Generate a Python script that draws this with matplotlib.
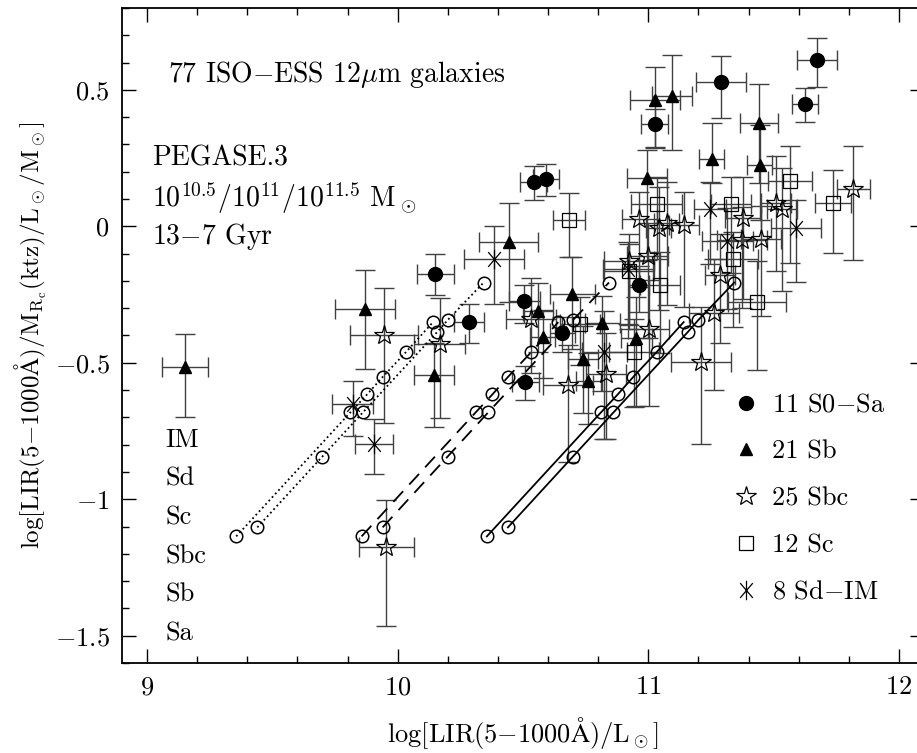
import numpy as np
import matplotlib
matplotlib.use('Agg')
import matplotlib.pyplot as plt
from matplotlib.path import Path
from matplotlib.ticker import MultipleLocator, FuncFormatter

plt.rcParams['font.family'] = ['cmr10', 'DejaVu Serif']
plt.rcParams['mathtext.fontset'] = 'cm'
plt.rcParams['axes.unicode_minus'] = False

# --- observed galaxies: x, y, x error, y error (low / high) ---
s0sa_x = [11.673, 11.625, 11.291, 11.025, 10.543, 10.592, 10.151, 10.284, 10.506, 10.510, 10.656, 10.964]
s0sa_y = [0.609, 0.449, 0.528, 0.375, 0.162, 0.172, -0.173, -0.349, -0.275, -0.570, -0.391, -0.214]
s0sa_xe = [0.08, 0.052, 0.10, 0.053, 0.053, 0.05, 0.072, 0.061, 0.06, 0.053, 0.05, 0.04]
s0sa_ylo = [0.10, 0.066, 0.13, 0.088, 0.065, 0.06, 0.08, 0.078, 0.08, 0.067, 0.07, 0.10]
s0sa_yhi = [0.08, 0.058, 0.095, 0.055, 0.058, 0.058, 0.07, 0.065, 0.06, 0.06, 0.06, 0.07]

sb_x = [11.028, 11.094, 11.442, 11.254, 11.445, 10.995, 10.443, 9.871, 10.145, 9.151, 10.559, 10.579,
        10.696, 10.816, 10.738, 10.761, 10.953]
sb_y = [0.464, 0.478, 0.380, 0.247, 0.223, 0.178, -0.059, -0.303, -0.546, -0.514, -0.309, -0.406,
        -0.248, -0.355, -0.485, -0.565, -0.410]
sb_xe = [0.10, 0.08, 0.076, 0.05, 0.05, 0.08, 0.118, 0.12, 0.08, 0.093, 0.06, 0.05, 0.09, 0.07, 0.06, 0.05, 0.06]
sb_ylo = [0.175, 0.20, 0.22, 0.09, 0.20, 0.30, 0.22, 0.22, 0.19, 0.185, 0.15, 0.15, 0.20, 0.25, 0.20, 0.16, 0.25]
sb_yhi = [0.12, 0.15, 0.14, 0.13, 0.15, 0.10, 0.146, 0.142, 0.12, 0.12, 0.10, 0.10, 0.134, 0.10, 0.12, 0.10, 0.15]

sbc_x = [9.945, 10.167, 9.955, 10.533, 10.678, 10.831, 11.001, 11.210, 11.263, 11.287, 10.964, 11.041,
         11.073, 11.141, 10.997, 10.924, 11.378, 11.373, 11.449, 11.509, 11.533, 11.817]
sbc_y = [-0.400, -0.431, -1.176, -0.339, -0.583, -0.540, -0.378, -0.497, -0.318, -0.179, 0.026, -0.005,
         0.011, 0.004, -0.108, -0.127, 0.032, -0.050, -0.047, 0.086, 0.062, 0.135]
sbc_xe = [0.137, 0.10, 0.11, 0.10, 0.10, 0.08, 0.08, 0.12, 0.10, 0.06, 0.07, 0.05,
          0.05, 0.06, 0.08, 0.10, 0.07, 0.10, 0.08, 0.06, 0.06, 0.066]
sbc_ylo = [0.32, 0.27, 0.29, 0.20, 0.28, 0.24, 0.28, 0.30, 0.28, 0.25, 0.25, 0.30,
           0.30, 0.30, 0.30, 0.25, 0.30, 0.25, 0.28, 0.25, 0.30, 0.26]
sbc_yhi = [0.175, 0.17, 0.175, 0.15, 0.15, 0.15, 0.18, 0.20, 0.20, 0.15, 0.10, 0.15,
           0.15, 0.12, 0.12, 0.10, 0.15, 0.12, 0.12, 0.17, 0.15, 0.16]

sc_x = [10.685, 11.033, 11.329, 11.566, 11.737, 11.339, 11.435, 11.047, 10.924, 10.944, 10.729]
sc_y = [0.022, 0.080, 0.080, 0.165, 0.084, -0.120, -0.276, -0.214, -0.163, -0.461, -0.358]
sc_xe = [0.064, 0.10, 0.08, 0.087, 0.073, 0.10, 0.116, 0.08, 0.10, 0.10, 0.08]
sc_ylo = [0.136, 0.20, 0.25, 0.30, 0.18, 0.25, 0.25, 0.25, 0.20, 0.20, 0.15]
sc_yhi = [0.10, 0.10, 0.10, 0.13, 0.124, 0.10, 0.15, 0.12, 0.10, 0.12, 0.10]

sdim_x = [10.386, 9.820, 9.906, 11.247, 11.316, 11.588, 10.918, 10.825]
sdim_y = [-0.120, -0.650, -0.796, 0.062, -0.054, -0.005, -0.157, -0.461]
sdim_xe = [0.12, 0.08, 0.076, 0.063, 0.10, 0.10, 0.10, 0.09]
sdim_ylo = [0.164, 0.12, 0.11, 0.20, 0.25, 0.20, 0.20, 0.32]
sdim_yhi = [0.12, 0.085, 0.09, 0.10, 0.12, 0.10, 0.10, 0.15]

# --- PEGASE.3 model tracks (two tracks per mass) ---
trk1_y = [-1.136, -0.682, -0.616, -0.552, -0.461, -0.351]
trk2_y = [-1.103, -0.844, -0.682, -0.388, -0.343, -0.206]
m105_x1 = [9.356, 9.811, 9.878, 9.940, 10.033, 10.141]
m105_x2 = [9.440, 9.699, 9.861, 10.157, 10.200, 10.343]
m110_x1 = [9.856, 10.311, 10.378, 10.440, 10.533, 10.641]
m110_x2 = [9.940, 10.199, 10.361, 10.657, 10.700, 10.843]
m115_x1 = [10.356, 10.811, 10.878, 10.940, 11.033, 11.141]
m115_x2 = [10.440, 10.699, 10.861, 11.157, 11.200, 11.343]

type_labels = ['IM', 'Sd', 'Sc', 'Sbc', 'Sb', 'Sa']

# asterisk: vertical bar plus a steep X
ast = Path([(0, -1), (0, 1), (-0.65, -0.76), (0.65, 0.76), (-0.65, 0.76), (0.65, -0.76)],
           [Path.MOVETO, Path.LINETO] * 3)

fig = plt.figure(figsize=(9.17, 7.53), dpi=100)
ax = fig.add_axes([0.1330, 0.1195, 0.8746, 0.8699])

ecol = '#404040'
groups = [
    (s0sa_x, s0sa_y, s0sa_xe, s0sa_ylo, s0sa_yhi, dict(marker='o', ms=10, mfc='k', mec='k'), '11 S0$-$Sa'),
    (sb_x, sb_y, sb_xe, sb_ylo, sb_yhi, dict(marker='^', ms=9, mfc='k', mec='k'), '21 Sb'),
    (sbc_x, sbc_y, sbc_xe, sbc_ylo, sbc_yhi, dict(marker='*', ms=15, mfc='none', mec='k', mew=0.9), '25 Sbc'),
    (sc_x, sc_y, sc_xe, sc_ylo, sc_yhi, dict(marker='s', ms=10, mfc='none', mec='k', mew=0.9), '12 Sc'),
    (sdim_x, sdim_y, sdim_xe, sdim_ylo, sdim_yhi, dict(marker=ast, ms=14, mfc='none', mec='k', mew=0.9), '8 Sd$-$IM'),
]
handles = []
for gx, gy, gxe, gylo, gyhi, mk, lab in groups:
    ax.errorbar(gx, gy, xerr=gxe, yerr=[gylo, gyhi], fmt='none', ecolor=ecol,
                elinewidth=1.0, capsize=7, capthick=1.0, zorder=2)
    h, = ax.plot(gx, gy, ls='none', zorder=3, **mk)
    handles.append((h, lab))

trk = dict(marker='o', ms=9, mfc='none', mec='k', mew=1.1, color='k', zorder=4)
ax.plot(m105_x1, trk1_y, ls=':', lw=1.3, **trk)
ax.plot(m105_x2, trk2_y, ls=':', lw=1.3, **trk)
ax.plot(m110_x1, trk1_y, ls=(0, (8, 5)), lw=1.3, **trk)
ax.plot(m110_x2, trk2_y, ls=(0, (8, 5)), lw=1.3, **trk)
ax.plot(m115_x1, trk1_y, ls='-', lw=1.3, **trk)
ax.plot(m115_x2, trk2_y, ls='-', lw=1.3, **trk)

ax.set_xlim(8.9, 12.1)
ax.set_ylim(-1.6, 0.8)
ax.xaxis.set_major_locator(MultipleLocator(1))
ax.xaxis.set_minor_locator(MultipleLocator(0.2))
ax.yaxis.set_major_locator(MultipleLocator(0.5))
ax.yaxis.set_minor_locator(MultipleLocator(0.1))
fmt = FuncFormatter(lambda v, p: '$%g$' % round(v, 2))
ax.xaxis.set_major_formatter(fmt)
ax.yaxis.set_major_formatter(fmt)
ax.tick_params(which='both', direction='in', top=True, right=True, width=1.0, labelsize=19)
ax.tick_params(which='major', length=10, pad=9)
ax.tick_params(which='minor', length=5)
for sp in ax.spines.values():
    sp.set_linewidth(1.3)

ax.set_xlabel('log[LIR(5$-$1000$\\mathrm{\\AA}$)/L$_\\odot$]', fontsize=19, labelpad=11)
ax.set_ylabel('log[LIR(5$-$1000$\\mathrm{\\AA}$)/M$_{\\mathrm{R_c}}$(ktz)/L$_\\odot$/M$_\\odot$]',
              fontsize=18, labelpad=4)

ax.text(0.057, 0.898, '77 ISO$-$ESS 12$\\mu$m galaxies', transform=ax.transAxes, fontsize=20, va='center')
ax.text(0.038, 0.771, 'PEGASE.3', transform=ax.transAxes, fontsize=20, va='center')
ax.text(0.038, 0.710, '10$^{10.5}$/10$^{11}$/10$^{11.5}$ M$_\\odot$', transform=ax.transAxes, fontsize=20, va='center')
ax.text(0.038, 0.651, '13$-$7 Gyr', transform=ax.transAxes, fontsize=20, va='center')
for i, t in enumerate(type_labels):
    ax.text(0.054, 0.340 - i * 0.059, t, transform=ax.transAxes, fontsize=19, va='center')

ax.legend([h for h, _ in handles], [l for _, l in handles], loc='upper left',
          bbox_to_anchor=(0.745, 0.432), frameon=False, fontsize=19, handlelength=1.0,
          handletextpad=0.5, labelspacing=0.87, borderpad=0, numpoints=1)

fig.savefig('out.png', dpi=100)
